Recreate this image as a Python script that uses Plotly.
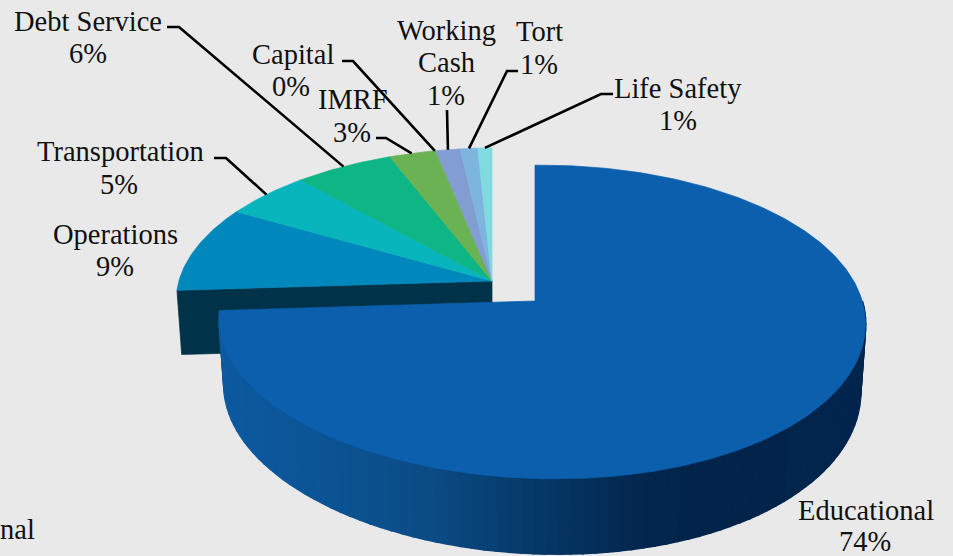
import numpy as np
import plotly.graph_objects as go

# --- data ---
categories = ["Educational", "Operations", "Transportation", "Debt Service", "IMRF",
              "Capital", "Working Cash", "Tort", "Life Safety"]
shares = [74.0, 9.3, 5.1, 5.7, 2.6, 0.1, 1.4, 1.0, 0.8]

# --- style / layout ---
slice_colors = ["#0B5FAD", "#0088BD", "#08B5BD", "#0EB585", "#6BB254",
                "#6BB254", "#829DD2", "#7EB5DF", "#7FDBDF"]
label_lines = {
    "Educational": [(866, 510, "Educational")],
    "Operations": [(115, 234, "Operations")],
    "Transportation": [(120, 151, "Transportation")],
    "Debt Service": [(88, 21, "Debt Service")],
    "IMRF": [(353, 99, "IMRF")],
    "Capital": [(293, 54, "Capital")],
    "Working Cash": [(446, 30, "Working"), (446, 62, "Cash")],
    "Tort": [(539, 31, "Tort")],
    "Life Safety": [(678, 88, "Life Safety")],
}
pct_pos = {
    "Educational": (865, 541), "Operations": (115, 266), "Transportation": (119, 184),
    "Debt Service": (88, 53), "IMRF": (352, 132), "Capital": (291, 86),
    "Working Cash": (446, 95), "Tort": (539, 64), "Life Safety": (678, 120),
}
elbows = {
    "Transportation": [(214, 158), (226, 158)],
    "Debt Service": [(167, 27), (179, 27)],
    "IMRF": [(376, 138), (386, 138)],
    "Capital": [(342, 61), (353, 61)],
    "Working Cash": [(447, 110)],
    "Tort": [(518, 71), (507, 71)],
    "Life Safety": [(613, 94), (601, 94)],
}
FONT = "Liberation Serif"
BG = "#E9E9E9"
K, M = 0.134, -0.022     # perspective of the tilted disc
RX = 320.0
DEPTH = 65.0
EDU_APEX = (535.0, 301.0, 154.0)
REST_APEX = (492.0, 281.0, 151.0)


def project(theta_deg, apex, depth=0.0, radius=1.0):
    ax, ay, ry = apex
    t = np.radians(np.asarray(theta_deg, dtype=float))
    u, v = np.sin(t) * radius, np.cos(t) * radius
    d = 1.0 / (1.0 + K * v + M * u)
    x = RX * u * d + 12.0 * np.where(v < 0, v * v, 0.0)
    y = -ry * v * d
    if depth:
        x = x * 0.985
        y = y + depth * d
    return ax + x, ay + y


def poly(fig, x, y, color, lw=0.7):
    fig.add_trace(go.Scatter(x=list(x), y=list(y), mode="lines", fill="toself",
                             fillcolor=color, line=dict(color=color, width=lw),
                             hoverinfo="skip", showlegend=False))


total = float(sum(shares))
edges = np.concatenate([[0.0], np.cumsum(shares)]) / total * 360.0
mids = (edges[:-1] + edges[1:]) / 2

fig = go.Figure()

# side face of the group left behind (the cut edge of the first small slice)
a0 = edges[1]
lx, ly = project(a0, REST_APEX)
bx, by = project(a0, REST_APEX, depth=DEPTH)
cx, cy = project(a0, REST_APEX, radius=0.0)
ex, ey = project(a0, REST_APEX, depth=DEPTH, radius=0.0)
poly(fig, [lx, bx, ex, cx, lx], [ly, by, ey, cy, ly], "#003349")

# top faces of the small slices
for i in range(1, len(categories)):
    th = np.linspace(edges[i], edges[i + 1], max(4, int(edges[i + 1] - edges[i]) * 2))
    x, y = project(th, REST_APEX)
    poly(fig, [REST_APEX[0], *x, REST_APEX[0]], [REST_APEX[1], *y, REST_APEX[1]], slice_colors[i])

# shaded side of the main slice, drawn as thin strips
shade_x = [225, 300, 430, 540, 640, 700, 870]
shade_r = [12, 12, 11, 6, 3, 2, 2]
shade_g = [90, 86, 76, 56, 39, 36, 38]
shade_b = [160, 152, 133, 102, 79, 74, 78]
steps = np.linspace(90, edges[1], 91)
for a, b in zip(steps[:-1], steps[1:]):
    tx, ty = project([a, b], EDU_APEX)
    ux, uy = project([a, b], EDU_APEX, depth=DEPTH)
    m = (tx.mean() + ux.mean()) / 2
    col = "rgb(%d,%d,%d)" % (np.interp(m, shade_x, shade_r), np.interp(m, shade_x, shade_g),
                             np.interp(m, shade_x, shade_b))
    poly(fig, [tx[0], tx[1], ux[1], ux[0], tx[0]], [ty[0], ty[1], uy[1], uy[0], ty[0]], col, lw=2)

# top face of the main slice
th = np.linspace(0, edges[1], 300)
x, y = project(th, EDU_APEX)
poly(fig, [EDU_APEX[0], *x, EDU_APEX[0]], [EDU_APEX[1], *y, EDU_APEX[1]], slice_colors[0])

# leader lines, ending on the rim at each slice's mid-angle
for i, name in enumerate(categories):
    if name not in elbows:
        continue
    rx, ry = project(mids[i], REST_APEX)
    pts = elbows[name] + [(float(rx), float(ry))]
    fig.add_trace(go.Scatter(x=[p[0] for p in pts], y=[p[1] for p in pts], mode="lines",
                             line=dict(color="#000000", width=2.6),
                             hoverinfo="skip", showlegend=False))

# text
annotations = []


def txt(x, y, s, **kw):
    annotations.append(dict(x=x, y=y, text=s, showarrow=False, xref="x", yref="y",
                            font=dict(family=FONT, size=28.5, color="#111111"), **kw))


for name, v in zip(categories, shares):
    for (x, y, s) in label_lines[name]:
        txt(x, y, s)
    px, py = pct_pos[name]
    txt(px, py, f"{round(v)}%")
txt(37, 529, "nal", xanchor="right")

fig.update_layout(
    width=953, height=556, margin=dict(l=0, r=0, t=0, b=0),
    paper_bgcolor=BG, plot_bgcolor=BG, showlegend=False, annotations=annotations,
    xaxis=dict(range=[0, 953], visible=False, fixedrange=True),
    yaxis=dict(range=[556, 0], visible=False, fixedrange=True),
)
fig.write_html("out.html", config={"displayModeBar": False},
               post_script="document.body.style.margin='0';document.body.style.background='%s';"
                           "document.documentElement.style.overflow='hidden';" % BG)
